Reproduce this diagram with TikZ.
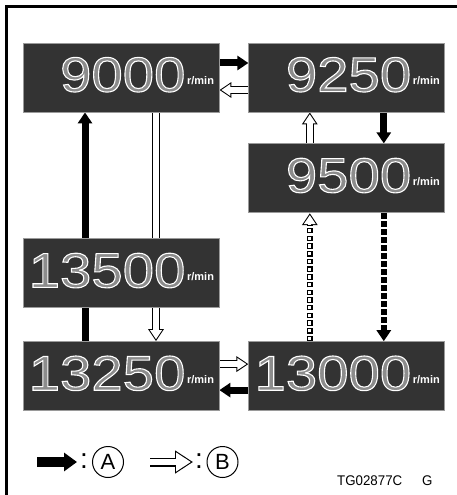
\documentclass[tikz,border=0pt]{standalone}
\usepackage{fontspec}
\setmainfont{Liberation Sans}
\newfontfamily\segfont[FakeStretch=1.15]{Liberation Sans}
\newfontfamily\idfont[FakeStretch=0.95]{Liberation Sans}
\usetikzlibrary{positioning, calc, arrows.meta}
\definecolor{PanelGray}{HTML}{333333}
\definecolor{PanelEdge}{HTML}{9A9A9A}
\definecolor{SegFill}{HTML}{8C8C8C}
\pgfdeclarelayer{background}
\pgfsetlayers{background,main}

% readout: outlined digits + unit
\newcommand{\readout}[1]{%
  {\segfont\fontsize{49}{49}\selectfont\color{SegFill}%
   \special{pdf:literal direct 2 Tr 1.1 w 1 1 1 RG}#1\special{pdf:literal direct 0 Tr}}%
  \,\raisebox{7pt}{\bfseries\fontsize{11}{11}\selectfont\color{white}r/min}%
  \rule[-6pt]{0pt}{6pt}}
% hollow arrow = black outline + white core
\newcommand{\hollowarr}[3][]{%
  \draw[hollowout#1] #2 -- #3;
  \draw[hollowin#1] #2 -- #3;}

\begin{document}
\begin{tikzpicture}[
  x=1pt, y=-1pt,
  panel/.style={
    draw=PanelEdge, line width=0.8pt, fill=PanelGray,
    minimum width=196pt, minimum height=69pt, text width=186pt,
    align=right, inner xsep=5pt, inner ysep=0pt
  },
  solidarr/.style={line width=7pt, -{Triangle[length=11pt,width=14pt]}},
  hollowout/.style={line width=7.5pt, -{Triangle[length=12pt,width=15pt]}},
  hollowin/.style={white, line width=5.5pt, shorten >=1.9pt,
    -{Triangle[length=9.1pt,width=11.4pt]}},
  hollowoutkey/.style={line width=9pt, -{Triangle[length=18pt,width=22pt]}},
  hollowinkey/.style={white, line width=6.8pt, shorten >=2.1pt,
    -{Triangle[length=14.8pt,width=18.1pt]}},
  blockdash/.style={line width=6pt, dash pattern=on 6pt off 2pt,
    -{Triangle[length=11pt,width=14pt]}},
  hollowoutdash/.style={line width=5.5pt, dash pattern=on 5.5pt off 2.2pt,
    -{Triangle[length=12pt,width=15pt]}},
  hollowindash/.style={white, line width=3.3pt, dash pattern=on 3.3pt off 4.4pt,
    dash phase=6.6pt, shorten >=1.9pt, -{Triangle[length=9.1pt,width=11.4pt]}},
  keysep/.style={font=\fontsize{28}{28}\selectfont, inner sep=0pt},
  keymark/.style={circle, draw, line width=1pt, minimum size=31pt, inner sep=0pt,
    font=\fontsize{22}{22}\selectfont}
]
  \useasboundingbox (0,0) rectangle (457,495);
  \draw[line width=2.5pt, line join=miter] (6.5,495) -- (6.5,6.5) -- (457,6.5);

  % Readout panels
  \node[panel] (b9000) at (121,77.5) {\readout{9000}};
  \node[panel, right=29pt of b9000] (b9250) {\readout{9250}};
  \node[panel, below=31pt of b9250] (b9500) {\readout{9500}};
  \node[panel, below=126pt of b9000] (b13500) {\readout{13500}};
  \node[panel, below=33pt of b13500] (b13250) {\readout{13250}};
  \node[panel, right=29pt of b13250] (b13000) {\readout{13000}};

  % Transitions
  \begin{pgfonlayer}{background}
    \draw[solidarr] ($(b9000.east)+(0,-14.5)$) -- ($(b9250.west)+(0,-14.5)$);
    \hollowarr{($(b9250.west)+(0,12.5)$)}{($(b9000.east)+(0,12.5)$)}
    \draw[solidarr] ($(b13250.north)+(-36,0)$) -- ($(b9000.south)+(-36,0)$);
    \hollowarr{($(b9000.south)+(35,0)$)}{($(b13250.north)+(35,0)$)}
    \hollowarr{($(b9500.north)+(-37,0)$)}{($(b9250.south)+(-37,0)$)}
    \draw[solidarr] ($(b9250.south)+(37,0)$) -- ($(b9500.north)+(37,0)$);
    \draw[hollowoutdash] ($(b13000.north)+(-37,0)$) -- ($(b9500.south)+(-37,0)$);
    \draw[hollowindash] ($(b13000.north)+(-37,0)$) -- ($(b9500.south)+(-37,0)$);
    \draw[blockdash] ($(b9500.south)+(37,0)$) -- ($(b13000.north)+(37,0)$);
    \hollowarr{($(b13250.east)+(0,-12)$)}{($(b13000.west)+(0,-12)$)}
    \draw[solidarr] ($(b13000.west)+(0,14)$) -- ($(b13250.east)+(0,14)$);
  \end{pgfonlayer}

  % Key
  \coordinate (keyA0) at (37,462);
  \coordinate (keyA1) at (77,462);
  \draw[line width=10pt, -{Triangle[length=13pt,width=18pt]}] (keyA0) -- (keyA1);
  \node[keysep] (colA) at (84,461) {:};
  \node[keymark] (markA) at (108,462) {A};
  \coordinate (keyB0) at (150,462);
  \coordinate (keyB1) at (193,462);
  \hollowarr[key]{(keyB0)}{(keyB1)}
  \node[keysep] (colB) at (199,461) {:};
  \node[keymark] (markB) at (222.5,462) {B};

  \node[anchor=west, inner sep=0pt, font=\idfont\fontsize{14}{14}\selectfont]
    (figid) at (337,481) {TG02877C\hspace{20pt}G};
\end{tikzpicture}
\end{document}
